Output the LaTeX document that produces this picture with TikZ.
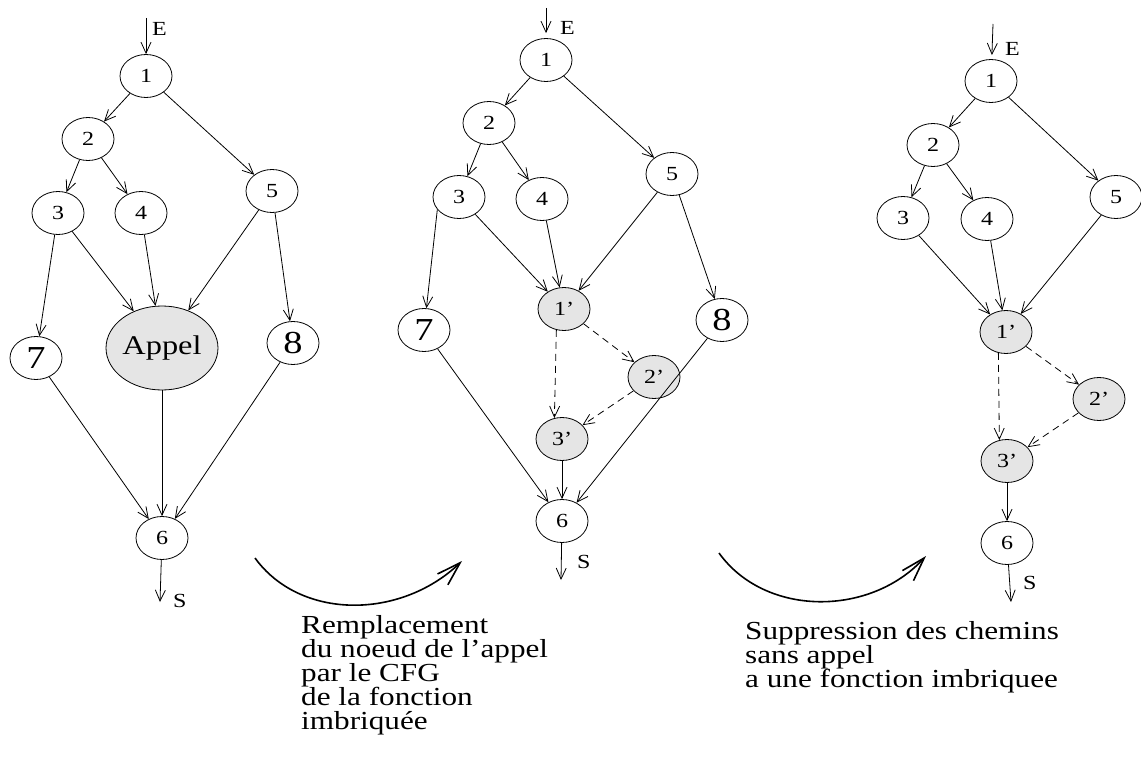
\documentclass[tikz,border=0pt]{standalone}
\usepackage{fontspec}
\setmainfont{Liberation Serif}[FakeStretch=1.2]
\usetikzlibrary{arrows.meta,shapes.geometric}

\begin{document}
\begin{tikzpicture}[x=1pt,y=-1pt,
  every node/.style={inner sep=0pt},
  blk/.style={draw, ellipse, line width=0.8pt, minimum width=52pt, minimum height=43pt,
              font=\fontsize{20}{20}\selectfont},
  big/.style={blk, font=\fontsize{32}{32}\selectfont},
  sub/.style={blk, fill=gray!20},
  callnode/.style={blk, fill=gray!20, minimum width=100pt, minimum height=84pt,
                   font=\fontsize{27}{27}\selectfont},
  edge/.style={line width=0.8pt, -{Straight Barb[length=11pt,width=10pt,line width=0.8pt]}},
  dedge/.style={edge, dash pattern=on 7pt off 5pt},
  io/.style={font=\fontsize{20}{20}\selectfont, anchor=west},
  bendarrow/.style={line width=1.6pt, -{Straight Barb[length=24pt,width=15pt,line width=1.6pt]}},
  caption/.style={anchor=north west, align=left, font=\fontsize{26}{24}\selectfont}
]
\useasboundingbox (0,0) rectangle (1141,760);

% ---------- original CFG ----------
\node[blk] (a1) at (146,76) {1};
\node[blk] (a2) at (88,139) {2};
\node[blk] (a3) at (58,213) {3};
\node[blk] (a4) at (141,213) {4};
\node[blk] (a5) at (272,191) {5};
\node[big] (a7) at (36,358) {7};
\node[callnode] (aA) at (162,348) {Appel};
\node[big] (a8) at (293,343) {8};
\node[blk] (a6) at (162,538) {6};
\coordinate (aE) at (146,18);
\coordinate (aS) at (160,602);
\node[io] (aEl) at (152,29) {E};
\node[io] (aSl) at (173,601) {S};

\draw[edge] (aE) -- (a1);
\draw[edge] (a1) -- (a2);
\draw[edge] (a1) -- (a5);
\draw[edge] (a2) -- (a3);
\draw[edge] (a2) -- (a4);
\draw[edge] (a3) -- (a7);
\draw[edge] (a3) -- (aA);
\draw[edge] (a4) -- (aA);
\draw[edge] (a5) -- (aA);
\draw[edge] (a5) -- (a8);
\draw[edge] (a7) -- (a6);
\draw[edge] (aA) -- (a6);
\draw[edge] (a8) -- (a6);
\draw[edge] (a6) -- (aS);

% ---------- call node replaced by the callee CFG ----------
\node[blk] (b1) at (546,60) {1};
\node[blk] (b2) at (489,123) {2};
\node[blk] (b3) at (459,197) {3};
\node[blk] (b4) at (542,199) {4};
\node[blk] (b5) at (672,174) {5};
\node[sub] (bp1) at (564,309) {1’};
\node[big] (b7) at (424,330) {7};
\node[big] (b8) at (722,320) {8};
\node[sub] (bp2) at (654,377) {2’};
\node[sub] (bp3) at (562,439) {3’};
\node[blk] (b6) at (562,521) {6};
\coordinate (bE) at (546,8);
\coordinate (bS) at (561,580);
\node[io] (bEl) at (560,28) {E};
\node[io] (bSl) at (577,562) {S};

\draw[edge, shorten >=5pt] (bE) -- (b1);
\draw[edge] (b1) -- (b2);
\draw[edge] (b1) -- (b5);
\draw[edge] (b2) -- (b3);
\draw[edge] (b2) -- (b4);
\draw[edge] (b3.210) -- (b7);
\draw[edge] (b3) -- (bp1);
\draw[edge] (b4) -- (bp1);
\draw[edge] (b5) -- (bp1);
\draw[edge] (b5) -- (b8);
\draw[edge] (b7) -- (b6);
\draw[edge] (b8) -- (b6);
\draw[dedge] (bp1) -- (bp2);
\draw[dedge] (bp1.250) -- (bp3.110);
\draw[dedge] (bp2) -- (bp3);
\draw[edge] (bp3) -- (b6);
\draw[edge] (b6) -- (bS);

% ---------- paths without a call removed ----------
\node[blk] (c1) at (991,81) {1};
\node[blk] (c2) at (933,145) {2};
\node[blk] (c3) at (903,218) {3};
\node[blk] (c4) at (987,219) {4};
\node[blk] (c5) at (1116,197) {5};
\node[sub] (cp1) at (1006,332) {1’};
\node[sub] (cp2) at (1099,399) {2’};
\node[sub] (cp3) at (1007,461) {3’};
\node[blk] (c6) at (1007,543) {6};
\coordinate (cE) at (993,24);
\coordinate (cS) at (1011,602);
\node[io] (cEl) at (1005,49) {E};
\node[io] (cSl) at (1023,583) {S};

\draw[edge, shorten >=4pt] (cE) -- (c1);
\draw[edge] (c1) -- (c2);
\draw[edge] (c1) -- (c5);
\draw[edge] (c2) -- (c3);
\draw[edge] (c2) -- (c4);
\draw[edge] (c3) -- (cp1);
\draw[edge] (c4) -- (cp1);
\draw[edge] (c5) -- (cp1);
\draw[dedge] (cp1) -- (cp2);
\draw[dedge] (cp1.250) -- (cp3.110);
\draw[dedge] (cp2) -- (cp3);
\draw[edge] (cp3) -- (c6);
\draw[edge] (c6) -- (cS);

% ---------- transformation arrows and captions ----------
\coordinate (t1s) at (255,558);
\coordinate (t1e) at (462,561);
\draw[bendarrow] (t1s) .. controls (300,620) and (400,620) .. (t1e);
\coordinate (t2s) at (719,553);
\coordinate (t2e) at (926,556);
\draw[bendarrow] (t2s) .. controls (765,617) and (870,617) .. (t2e);

\node[caption] (cap1) at (301,615) {Remplacement\\du noeud de l’appel\\par le CFG\\de la fonction\\imbriquée};
\node[caption] (cap2) at (745,621) {Suppression des chemins\\sans appel\\a une fonction imbriquee};

\end{tikzpicture}
\end{document}
